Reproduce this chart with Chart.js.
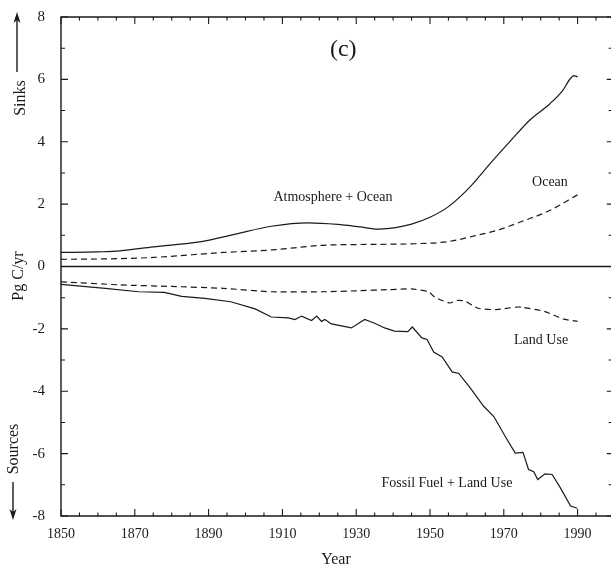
<!DOCTYPE html>
<html><head><meta charset="utf-8">
<script src="https://cdn.jsdelivr.net/npm/chart.js@4"></script>
<style>html,body{margin:0;padding:0;background:#fff;overflow:hidden}#wrap{width:611px;height:575px}</style>
</head><body><div id="wrap"><canvas id="c" width="611" height="575"></canvas></div>
<script>
// ---- data ----
const atmOceanYears  = [1850,1860,1866,1875,1888,1897,1907,1917,1925,1931,1936,1939,1942,1945,1950,1955,1961,1966,1972,1977,1982.5,1986,1988,1989,1990];
const atmOceanValues = [0.45,0.47,0.50,0.63,0.80,1.03,1.29,1.40,1.35,1.27,1.20,1.22,1.28,1.36,1.58,1.92,2.57,3.26,4.05,4.69,5.22,5.65,6.02,6.12,6.08];

const oceanYears  = [1850,1865,1875,1894,1907,1921,1935,1946,1955,1962,1969,1975,1982,1990];
const oceanValues = [0.23,0.25,0.29,0.45,0.53,0.68,0.71,0.73,0.80,0.98,1.19,1.45,1.77,2.30];

const landUseYears  = [1850,1866,1880,1894,1907,1921,1930,1939,1945,1949.6,1951.4,1955.4,1957.2,1959.5,1963,1968,1973.5,1975,1981,1986,1990];
const landUseValues = [-0.49,-0.59,-0.64,-0.70,-0.81,-0.81,-0.78,-0.74,-0.72,-0.81,-0.99,-1.17,-1.09,-1.11,-1.34,-1.38,-1.30,-1.31,-1.44,-1.68,-1.76];

const fossilLandYears  = [1850,1862,1871,1878,1882.7,1889,1896,1902.6,1907,1911.6,1913.4,1915.2,1917.9,1919.3,1920.6,1921.5,1923.3,1928.7,1932.3,1935,1937.7,1940.4,1944,1945.2,1947.8,1949.2,1951,1953.3,1956,1957.8,1961,1964.6,1967.3,1970.4,1973.1,1975.2,1976.7,1978.1,1979.2,1981.2,1983.1,1985.3,1988.1,1989.9];
const fossilLandValues = [-0.57,-0.70,-0.81,-0.83,-0.96,-1.02,-1.13,-1.36,-1.62,-1.65,-1.70,-1.59,-1.73,-1.59,-1.76,-1.70,-1.84,-1.97,-1.70,-1.82,-1.97,-2.07,-2.09,-1.94,-2.29,-2.34,-2.74,-2.90,-3.38,-3.43,-3.91,-4.49,-4.81,-5.45,-5.98,-5.96,-6.51,-6.58,-6.83,-6.65,-6.67,-7.09,-7.68,-7.75];

const zeroYears  = [1850,2000];
const zeroValues = [0,0];

const xTickLabels = [1850,1870,1890,1910,1930,1950,1970,1990];
const yTickLabels = [-8,-6,-4,-2,0,2,4,6,8];
const curveLabels = ['Atmosphere + Ocean','Ocean','Land Use','Fossil Fuel + Land Use'];
const panelLabel = '(c)';
const xTitle = 'Year';
const yTitle = 'Pg C/yr';
const upLabel = 'Sinks';
const downLabel = 'Sources';

function pts(xs, ys){ return xs.map((v,i)=>({x:v, y:ys[i]})); }

const SERIF = '"Liberation Serif", "Times New Roman", serif';
const INK = '#1a1a1a';

const decor = {
  id:'decor',
  afterDraw(chart){
    const {ctx, chartArea:a, scales:{x, y}} = chart;
    ctx.save();
    // frame (right side lies at the picture edge)
    ctx.strokeStyle = INK; ctx.lineWidth = 1.4;
    ctx.beginPath();
    ctx.moveTo(a.right, a.top); ctx.lineTo(a.left, a.top);
    ctx.lineTo(a.left, a.bottom); ctx.lineTo(a.right, a.bottom);
    ctx.stroke();
    // inward ticks
    ctx.lineWidth = 1.1;
    ctx.beginPath();
    for (let yr = x.min; yr <= x.max; yr += 5) {
      const px = x.getPixelForValue(yr);
      const len = xTickLabels.includes(yr) ? 7 : 3.5;
      ctx.moveTo(px, a.bottom); ctx.lineTo(px, a.bottom - len);
      ctx.moveTo(px, a.top); ctx.lineTo(px, a.top + len);
    }
    for (let v = y.min; v <= y.max; v += 1) {
      const py = y.getPixelForValue(v);
      const len = yTickLabels.includes(v) ? 7 : 4;
      ctx.moveTo(a.left, py); ctx.lineTo(a.left + len, py);
      ctx.moveTo(a.right, py); ctx.lineTo(a.right - len * 0.6, py);
    }
    ctx.stroke();

    ctx.fillStyle = INK;
    ctx.textAlign = 'center'; ctx.textBaseline = 'middle';
    // curve labels (placed in data coordinates)
    const lblPos = [[1923.7, 2.23],[1982.5, 2.70],[1980.1, -2.38],[1954.6, -6.96]];
    ctx.font = '14px ' + SERIF;
    curveLabels.forEach((t,i)=>{
      ctx.fillText(t, x.getPixelForValue(lblPos[i][0]), y.getPixelForValue(lblPos[i][1]));
    });
    ctx.font = '24px ' + SERIF;
    ctx.fillText(panelLabel, x.getPixelForValue(1926.5), y.getPixelForValue(6.95));

    // axis titles
    ctx.font = '16px ' + SERIF;
    ctx.fillText(xTitle, (a.left + a.right) / 2, 560);
    const vtext = (t, cx, cy) => {
      ctx.save(); ctx.translate(cx, cy); ctx.rotate(-Math.PI/2);
      ctx.fillText(t, 0, 0); ctx.restore();
    };
    vtext(yTitle, 19, 276);
    vtext(upLabel, 21, 98);
    vtext(downLabel, 14, 449);

    // arrows
    ctx.lineWidth = 1.4;
    ctx.beginPath(); ctx.moveTo(17, 72); ctx.lineTo(17, 20); ctx.stroke();
    ctx.beginPath(); ctx.moveTo(17, 12); ctx.lineTo(13.5, 23); ctx.lineTo(17, 20); ctx.lineTo(20.5, 23); ctx.closePath(); ctx.fill();
    ctx.beginPath(); ctx.moveTo(13, 482); ctx.lineTo(13, 512); ctx.stroke();
    ctx.beginPath(); ctx.moveTo(13, 520); ctx.lineTo(9.5, 509); ctx.lineTo(13, 512); ctx.lineTo(16.5, 509); ctx.closePath(); ctx.fill();
    ctx.restore();
  }
};

const base = {borderColor: INK, pointRadius: 0, fill: false, borderWidth: 1.2};

new Chart(document.getElementById('c'), {
  type: 'line',
  data: { datasets: [
    Object.assign({}, base, {label:'zero', data: pts(zeroYears, zeroValues), borderWidth: 1.4}),
    Object.assign({}, base, {label:'Atmosphere + Ocean', data: pts(atmOceanYears, atmOceanValues), cubicInterpolationMode:'monotone'}),
    Object.assign({}, base, {label:'Ocean', data: pts(oceanYears, oceanValues), cubicInterpolationMode:'monotone', borderDash:[6,4]}),
    Object.assign({}, base, {label:'Land Use', data: pts(landUseYears, landUseValues), borderDash:[6,4], tension:0.2}),
    Object.assign({}, base, {label:'Fossil Fuel + Land Use', data: pts(fossilLandYears, fossilLandValues), tension:0})
  ]},
  options: {
    responsive: false, animation: false, devicePixelRatio: 1,
    layout: {padding: {top: 13, right: 0, left: 0, bottom: 0}},
    plugins: {legend: {display: false}, tooltip: {enabled: false}},
    scales: {
      x: {
        type: 'linear', min: 1850, max: 1999.05,
        grid: {display: false}, border: {display: false},
        afterBuildTicks: s => { s.ticks = xTickLabels.map(v => ({value: v})); },
        afterFit: s => { s.height = 59; },
        ticks: {font: {family: SERIF, size: 14}, color: INK, padding: 2, maxRotation: 0, autoSkip: false,
                callback: v => String(v)}
      },
      y: {
        min: -8, max: 8,
        grid: {display: false}, border: {display: false},
        afterBuildTicks: s => { s.ticks = yTickLabels.map(v => ({value: v})); },
        afterFit: s => { s.width = 61; },
        ticks: {font: {family: SERIF, size: 15}, color: INK, padding: 8, callback: v => String(v)}
      }
    }
  },
  plugins: [decor]
});
</script></body></html>
